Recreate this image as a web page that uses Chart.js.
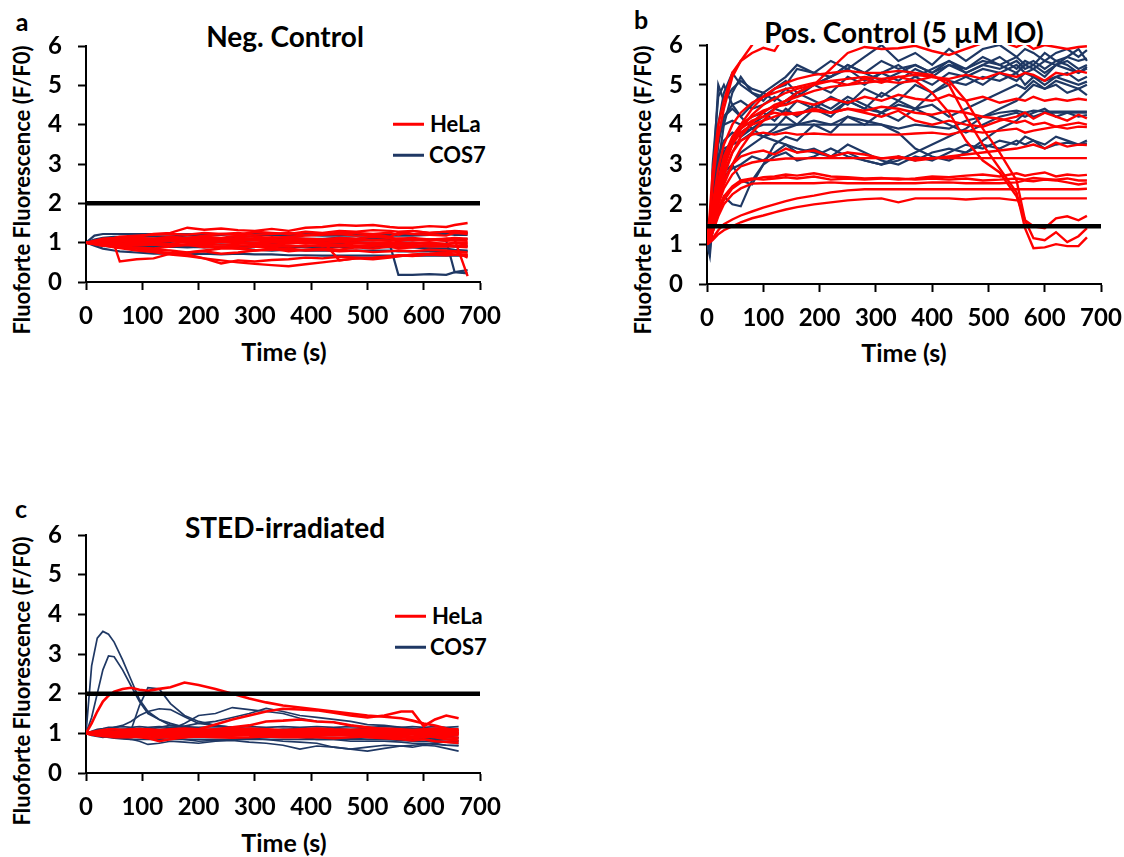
<!DOCTYPE html>
<html>
<head>
<meta charset="utf-8">
<title>Fluoforte traces</title>
<script src="https://cdn.jsdelivr.net/npm/chart.js@4.4.1/dist/chart.umd.min.js"></script>
<style>
  body { margin:0; background:#fff; width:1124px; height:857px; position:relative; overflow:hidden;
         font-family:Lato, "Open Sans", sans-serif; font-weight:bold; color:#000; }
  canvas { position:absolute; }
  .t { position:absolute; white-space:nowrap; line-height:1; transform:translate(-50%,-50%); }
  .yt { position:absolute; white-space:nowrap; line-height:1; font-size:22px; transform:translate(-50%,-50%) rotate(-90deg); }
  .lg { position:absolute; white-space:nowrap; line-height:1; font-size:22px; transform:translateY(-50%); }
  .sw { position:absolute; width:31px; height:2.5px; transform:translateY(-50%); }
</style>
</head>
<body>

<!-- panel letters and titles -->
<div class="t" style="left:22px;top:21px;font-size:25px">a</div>
<div class="t" style="left:641px;top:19px;font-size:25px">b</div>
<div class="t" style="left:21px;top:508px;font-size:25px">c</div>

<div class="t" style="left:285px;top:36px;font-size:28px">Neg. Control</div>
<div class="t" style="left:904px;top:32px;font-size:28px">Pos. Control (5 µM IO)</div>
<div class="t" style="left:285px;top:527px;font-size:28px">STED-irradiated</div>

<div class="yt" style="left:22px;top:190px">Fluoforte Fluorescence (F/F0)</div>
<div class="yt" style="left:643px;top:190px">Fluoforte Fluorescence (F/F0)</div>
<div class="yt" style="left:22px;top:681px">Fluoforte Fluorescence (F/F0)</div>

<div class="t" style="left:284px;top:351px;font-size:25px">Time (s)</div>
<div class="t" style="left:904px;top:352px;font-size:25px">Time (s)</div>
<div class="t" style="left:284px;top:842px;font-size:25px">Time (s)</div>

<!-- legends -->
<div class="sw" style="left:393px;top:124px;background:#ff0000"></div>
<div class="lg" style="left:430px;top:124px">HeLa</div>
<div class="sw" style="left:393px;top:155px;background:#1f3864"></div>
<div class="lg" style="left:429px;top:155px">COS7</div>

<div class="sw" style="left:395px;top:616px;background:#ff0000"></div>
<div class="lg" style="left:432px;top:616px">HeLa</div>
<div class="sw" style="left:395px;top:647px;background:#1f3864"></div>
<div class="lg" style="left:430px;top:647px">COS7</div>

<canvas id="chartA" width="520" height="380" style="left:0px;top:0px"></canvas>
<canvas id="chartB" width="504" height="380" style="left:620px;top:0px"></canvas>
<canvas id="chartC" width="520" height="367" style="left:0px;top:490px"></canvas>

<script>
// ===============================
// DATA
// ===============================
const xTicks = [0, 100, 200, 300, 400, 500, 600, 700];
const yTicks = [0, 1, 2, 3, 4, 5, 6];

// a: negative control
const timeA = [0, 15, 30, 50, 60, 90, 120, 150, 180, 210, 240, 270, 300, 330, 360, 390, 420, 450, 480, 510, 540, 555, 580, 610, 640, 655, 678];
const threshA = 2;
const helaA = [
  [1, 1.02, 1.05, 1.08, 1.1, 1.15, 1.22, 1.25, 1.38, 1.33, 1.36, 1.32, 1.3, 1.35, 1.3, 1.38, 1.4, 1.45, 1.43, 1.45, 1.4, 1.38, 1.38, 1.42, 1.4, 1.45, 1.5],
  [1, 1.0, 0.98, 0.95, 0.52, 0.58, 0.6, 0.72, 0.75, 0.8, 0.85, 0.85, 0.9, 0.88, 0.92, 0.9, 0.95, 0.95, 0.9, 0.92, 0.95, 0.95, 0.95, 0.9, 0.9, 0.92, 0.95],
  [1, 0.97, 0.93, 0.88, 0.86, 0.8, 0.76, 0.7, 0.66, 0.6, 0.55, 0.5, 0.46, 0.43, 0.4, 0.45, 0.5, 0.55, 0.6, 0.62, 0.65, 0.66, 0.68, 0.7, 0.68, 0.7, 0.7],
  [1, 0.98, 0.95, 0.9, 0.88, 0.85, 0.78, 0.74, 0.7, 0.6, 0.47, 0.55, 0.52, 0.56, 0.58, 0.62, 0.6, 0.64, 0.62, 0.6, 0.65, 0.68, 0.66, 0.7, 0.72, 0.7, 0.68],
  [1, 1.02, 1.0, 1.05, 1.03, 1.06, 1.04, 1.1, 1.05, 1.08, 1.1, 1.05, 1.1, 1.08, 1.05, 1.08, 1.05, 0.55, 0.6, 0.58, 0.62, 0.65, 0.7, 0.72, 0.75, 0.78, 0.75],
  [1, 1.0, 1.02, 1.0, 0.98, 1.0, 1.02, 1.05, 1.0, 1.03, 1.05, 1.02, 1.0, 1.04, 1.06, 1.02, 1.05, 1.08, 1.05, 1.07, 1.05, 1.1, 1.08, 1.05, 1.1, 1.08, 0.15],
  [1, 1.05, 1.1, 1.12, 1.15, 1.18, 1.2, 1.22, 1.2, 1.25, 1.22, 1.25, 1.2, 1.22, 1.25, 1.2, 1.22, 1.25, 1.25, 1.22, 1.25, 1.2, 1.3, 1.25, 1.28, 1.27, 1.25],
  [1, 0.98, 0.95, 0.92, 0.9, 0.88, 0.85, 0.9, 0.95, 0.88, 0.9, 0.85, 0.8, 0.82, 0.85, 0.8, 0.82, 0.78, 0.8, 0.76, 0.78, 0.8, 0.78, 0.82, 0.8, 0.78, 0.62],
  [1, 1.02, 1.04, 1.0, 1.02, 1.05, 1.08, 1.12, 1.1, 1.15, 1.12, 1.18, 1.15, 1.12, 1.15, 1.18, 1.2, 1.22, 1.18, 1.2, 1.15, 1.25, 1.22, 1.2, 1.18, 1.25, 1.22],
  [1, 0.99, 0.97, 0.96, 0.95, 0.97, 0.95, 0.93, 0.96, 0.98, 0.95, 0.97, 0.99, 0.95, 0.98, 1.0, 0.97, 0.95, 0.98, 1.0, 0.98, 0.96, 1.0, 0.98, 0.97, 1.0, 0.98],
  [1, 1.01, 1.03, 1.05, 1.06, 1.08, 1.1, 1.08, 1.12, 1.1, 1.08, 1.12, 1.1, 1.14, 1.12, 1.1, 1.08, 1.12, 1.1, 1.15, 1.12, 1.1, 1.12, 1.08, 1.1, 1.12, 1.1],
  [1, 0.97, 0.93, 0.9, 0.88, 0.85, 0.82, 0.8, 0.75, 0.78, 0.72, 0.75, 0.8, 0.85, 0.78, 0.82, 0.85, 0.82, 0.88, 0.85, 0.9, 0.85, 0.88, 0.92, 0.95, 0.92, 0.9],
  [1, 1.03, 1.06, 1.05, 1.1, 1.12, 1.1, 1.15, 1.12, 1.18, 1.22, 1.2, 1.28, 1.25, 1.22, 1.28, 1.25, 1.3, 1.28, 1.32, 1.3, 1.28, 1.3, 1.25, 1.28, 1.3, 1.28],
  [1, 0.96, 0.92, 0.95, 0.93, 0.98, 1.0, 0.97, 1.02, 0.99, 1.03, 1.0, 0.97, 1.0, 1.02, 0.98, 1.0, 1.03, 1.0, 0.97, 1.0, 1.02, 0.98, 1.0, 0.97, 0.99, 1.0],
  [1, 1.02, 1.05, 1.04, 1.06, 1.05, 1.07, 1.05, 1.08, 1.06, 1.05, 1.08, 1.06, 1.05, 1.07, 1.06, 1.08, 1.05, 1.07, 1.06, 1.05, 1.08, 1.06, 1.07, 1.05, 1.06, 1.05],
  [1, 0.98, 0.97, 0.95, 0.96, 0.93, 0.95, 0.92, 0.94, 0.92, 0.9, 0.92, 0.94, 0.92, 0.9, 0.93, 0.92, 0.9, 0.92, 0.94, 0.92, 0.9, 0.92, 0.94, 0.92, 0.9, 0.88]
];
const cos7A = [
  [1, 1.18, 1.22, 1.22, 1.22, 1.22, 1.22, 1.22, 1.22, 1.22, 1.22, 1.22, 1.22, 1.22, 1.22, 1.22, 1.22, 1.22, 1.22, 1.22, 1.22, 1.22, 1.22, 1.22, 1.25, 1.25, 1.25],
  [1, 1.08, 1.12, 1.15, 1.15, 1.15, 1.16, 1.16, 1.18, 1.18, 1.2, 1.22, 1.2, 1.2, 1.18, 1.2, 1.18, 1.18, 1.18, 1.18, 1.18, 1.18, 1.18, 1.2, 1.22, 1.2, 1.2],
  [1, 0.95, 0.92, 0.9, 0.9, 0.88, 0.88, 0.9, 0.88, 0.9, 0.88, 0.9, 0.9, 0.88, 0.9, 0.88, 0.88, 0.9, 0.88, 0.9, 0.88, 0.9, 0.88, 0.85, 0.85, 0.82, 0.8],
  [1, 0.92, 0.85, 0.8, 0.78, 0.75, 0.72, 0.72, 0.7, 0.72, 0.7, 0.72, 0.7, 0.7, 0.68, 0.68, 0.67, 0.67, 0.67, 0.67, 0.67, 0.67, 0.67, 0.67, 0.67, 0.67, 0.67],
  [1, 1.0, 0.98, 0.98, 1.0, 1.02, 1.0, 1.02, 1.05, 1.02, 1.0, 1.02, 1.0, 0.98, 1.0, 1.02, 1.0, 0.98, 1.0, 0.98, 0.95, 0.18, 0.18, 0.2, 0.18, 0.25, 0.3],
  [1, 1.05, 1.08, 1.08, 1.1, 1.1, 1.1, 1.12, 1.1, 1.12, 1.1, 1.12, 1.1, 1.1, 1.12, 1.1, 1.1, 1.12, 1.1, 1.12, 1.1, 1.1, 1.1, 1.08, 1.05, 0.25, 0.22],
  [1, 0.98, 0.96, 0.95, 0.95, 0.93, 0.92, 0.92, 0.94, 0.9, 0.88, 0.86, 0.82, 0.8, 0.82, 0.8, 0.8, 0.8, 0.8, 0.8, 0.8, 0.78, 0.78, 0.78, 0.78, 0.78, 0.78],
  [1, 1.0, 1.02, 1.0, 1.02, 1.05, 1.03, 1.06, 1.05, 1.08, 1.05, 1.06, 1.08, 1.05, 1.06, 1.08, 1.05, 1.04, 1.05, 1.06, 1.08, 1.05, 1.06, 1.08, 1.1, 1.08, 1.1],
  [1, 0.97, 0.95, 0.93, 0.92, 0.9, 0.9, 0.92, 0.9, 0.88, 0.9, 0.92, 0.9, 0.9, 0.92, 0.9, 0.9, 0.92, 0.9, 0.9, 0.92, 0.9, 0.92, 0.9, 0.92, 0.9, 0.92]
];

// b: positive control (ionomycin)
const timeB = [0, 5, 10, 20, 30, 45, 60, 80, 100, 120, 140, 160, 190, 220, 250, 280, 310, 340, 370, 400, 430, 460, 490, 520, 550, 565, 580, 600, 620, 640, 660, 675];
const threshB = 1.45;
const helaB = [
  [1, 1.8, 2.8, 4.0, 4.6, 5.3, 5.6, 6.0, 6.4],
  [1, 1.6, 2.5, 3.7, 4.4, 5.2, 5.6, 5.8, 5.93, 5.85, 6.3],
  [1, 1.2, 1.5, 2.0, 2.5, 3.0, 3.4, 3.8, 4.1, 4.4, 4.6, 4.8, 5.0, 5.4, 5.8, 5.95, 5.9, 5.92, 5.98, 5.85, 5.75, 5.9, 6.05, 6.1, 5.95, 6.05, 5.9, 6.0, 5.95, 5.9, 5.95, 5.97],
  [1, 1.3, 1.7, 2.4, 3.0, 3.6, 4.0, 4.4, 4.7, 4.9, 5.05, 5.15, 5.25, 5.3, 5.35, 5.3, 5.3, 5.35, 5.3, 5.25, 5.0, 4.2, 3.5, 2.9, 2.3, 1.4, 0.9, 0.92, 1.0, 0.95, 0.95, 1.17],
  [1, 1.2, 1.6, 2.3, 2.9, 3.5, 3.9, 4.25, 4.5, 4.65, 4.8, 4.9, 5.0, 5.1, 5.15, 5.2, 5.15, 5.2, 5.25, 5.2, 5.1, 4.6, 3.9, 3.3, 2.6, 1.6, 1.15, 1.1, 1.3, 1.05, 1.2, 1.4],
  [1, 1.15, 1.45, 2.1, 2.7, 3.3, 3.7, 4.05, 4.3, 4.5, 4.6, 4.7, 4.85, 4.95, 5.0, 5.05, 5.1, 5.05, 5.1, 4.8, 4.3, 3.6, 3.1, 2.8, 2.2, 1.6, 1.45, 1.4, 1.65, 1.7, 1.6, 1.71],
  [1, 1.4, 2.0, 2.9, 3.5, 4.0, 4.3, 4.55, 4.7, 4.8, 4.9, 4.95, 5.05, 5.1, 5.0, 5.15, 5.05, 5.2, 5.1, 5.2, 5.15, 5.25, 5.15, 5.3, 5.2, 5.3, 5.25, 5.1, 5.3, 5.25, 5.35, 5.3],
  [1, 1.3, 1.8, 2.6, 3.2, 3.7, 4.0, 4.2, 4.35, 4.45, 4.5, 4.6, 4.5, 4.65, 4.55, 4.7, 4.6, 4.75, 4.65, 4.6, 4.75, 4.6, 4.7, 4.55, 4.65, 4.6, 4.7, 4.6, 4.65, 4.6, 4.65, 4.62],
  [1, 1.2, 1.6, 2.4, 3.0, 3.5, 3.8, 4.0, 4.1, 4.2, 4.3, 4.25, 4.4, 4.3, 4.4, 4.3, 4.2, 4.35, 4.1, 4.0, 4.1, 4.0, 3.95, 4.1, 4.2, 4.3, 4.15, 4.3, 4.2, 4.1, 4.25, 4.16],
  [1, 1.25, 1.7, 2.5, 3.1, 3.6, 3.9, 4.1, 4.2, 4.3, 4.25, 4.3, 4.35, 4.3, 4.4, 4.35, 4.45, 4.4, 4.3, 4.25, 4.35, 4.3, 4.2, 4.15, 4.05, 4.1, 4.0, 4.05, 3.95, 4.0, 4.05, 4.0],
  [1, 1.2, 1.5, 2.2, 2.8, 3.3, 3.6, 3.75, 3.8, 3.75, 3.8, 3.75, 3.78, 3.75, 3.75, 3.75, 3.75, 3.75, 3.78, 3.8, 3.75, 3.85, 3.8, 3.85, 3.9, 3.8, 3.85, 3.9, 3.95, 3.9, 3.95, 3.94],
  [1, 1.2, 1.5, 2.1, 2.6, 3.0, 3.2, 3.3, 3.35, 3.25, 3.4, 3.3, 3.35, 3.2, 3.3, 3.25, 3.15, 3.2, 3.1, 3.15, 3.2, 3.25, 3.3, 3.35, 3.4, 3.45, 3.5, 3.4, 3.55, 3.45, 3.5, 3.49],
  [1, 1.15, 1.4, 2.0, 2.4, 2.75, 2.95, 3.05, 3.1, 3.12, 3.15, 3.15, 3.16, 3.16, 3.16, 3.16, 3.16, 3.16, 3.16, 3.16, 3.16, 3.16, 3.16, 3.16, 3.16, 3.16, 3.16, 3.16, 3.16, 3.16, 3.16, 3.16],
  [1, 1.1, 1.3, 1.8, 2.1, 2.4, 2.55, 2.62, 2.68, 2.7, 2.75, 2.72, 2.78, 2.7, 2.68, 2.65, 2.66, 2.62, 2.65, 2.7, 2.68, 2.72, 2.75, 2.7, 2.78, 2.72, 2.76, 2.8, 2.7, 2.75, 2.72, 2.74],
  [1, 1.1, 1.4, 1.9, 2.2, 2.45, 2.6, 2.65, 2.62, 2.65, 2.68, 2.65, 2.7, 2.62, 2.65, 2.62, 2.65, 2.65, 2.62, 2.65, 2.62, 2.65, 2.6, 2.62, 2.65, 2.62, 2.66, 2.64, 2.62, 2.65, 2.6, 2.6],
  [1, 1.1, 1.3, 1.7, 2.0, 2.25, 2.4, 2.52, 2.53, 2.53, 2.53, 2.53, 2.53, 2.55, 2.53, 2.53, 2.53, 2.53, 2.53, 2.55, 2.55, 2.53, 2.53, 2.53, 2.55, 2.6, 2.58, 2.62, 2.6, 2.55, 2.5, 2.53],
  [1, 1.05, 1.15, 1.35, 1.5, 1.62, 1.72, 1.82, 1.92, 2.0, 2.08, 2.15, 2.22, 2.3, 2.35, 2.38, 2.38, 2.38, 2.38, 2.38, 2.38, 2.38, 2.38, 2.38, 2.38, 2.38, 2.38, 2.38, 2.38, 2.38, 2.38, 2.39],
  [1, 1.05, 1.1, 1.25, 1.35, 1.45, 1.55, 1.65, 1.72, 1.8, 1.87, 1.93, 2.0, 2.05, 2.1, 2.13, 2.15, 2.05, 2.15, 2.15, 2.15, 2.12, 2.15, 2.15, 2.1, 2.15, 2.15, 2.15, 2.15, 2.15, 2.15, 2.15]
];
const cos7B = [
  [1, 0.8, 2.5, 5.0, 4.6, 4.9, 5.1, 4.9, 4.8, 5.0, 5.2, 5.5, 5.3, 5.6, 5.4, 5.7, 6.0, 5.6, 5.8, 5.5, 5.9, 5.6, 5.9, 6.0, 5.7, 5.9, 5.8, 5.6, 5.8, 5.9, 5.7, 5.87],
  [1, 0.7, 1.5, 3.0, 4.0, 4.8, 5.2, 4.8, 4.7, 4.9, 5.0, 5.4, 5.3, 5.2, 5.5, 5.3, 5.6, 5.4, 5.5, 5.3, 5.5, 5.4, 5.6, 5.5, 5.7, 5.5, 5.4, 5.6, 5.5, 5.7, 5.6, 5.66],
  [1, 1.2, 2.0, 3.5, 4.2, 4.4, 4.2, 4.5, 4.8, 4.6, 4.9, 4.7, 5.0, 4.8, 5.2, 5.0, 5.3, 5.1, 5.4, 5.2, 5.5, 5.3, 5.5, 5.4, 5.6, 5.4, 5.5, 5.3, 5.5, 5.6, 5.4, 5.5],
  [1, 1.0, 1.5, 2.5, 3.2, 3.6, 3.8, 3.9, 4.1, 4.4, 4.3, 4.6, 4.4, 4.7, 4.5, 4.9, 4.7, 5.0, 5.2, 5.0, 5.3, 5.2, 5.4, 5.3, 5.5, 5.3, 5.4, 5.2, 5.5, 5.4, 5.3, 5.41],
  [1, 1.1, 1.8, 3.0, 3.4, 3.5, 3.6, 3.8, 3.7, 3.9, 4.2, 4.0, 4.4, 4.2, 4.6, 4.4, 4.8, 4.6, 5.0, 4.8, 5.1, 5.0, 5.2, 5.1, 5.3, 5.0, 5.2, 5.1, 5.2, 5.3, 5.1, 5.2],
  [1, 1.1, 1.6, 2.5, 2.8, 3.0, 2.6, 2.5, 3.0, 3.5, 3.7, 3.6, 4.0, 3.8, 4.2, 4.0, 4.3, 4.5, 4.4, 4.8, 5.0, 5.2, 5.0, 5.3, 5.1, 5.3, 5.2, 5.0, 5.2, 5.1, 5.0, 5.08],
  [1, 1.2, 2.2, 3.6, 4.2, 4.5, 4.6, 4.4, 4.5, 4.7, 4.5, 4.8, 4.6, 4.4, 4.7, 4.5, 4.3, 4.6, 4.4, 4.5, 4.2, 4.4, 4.6, 4.8, 5.0, 4.9, 5.1, 4.9, 5.0, 4.8, 4.9, 4.74],
  [1, 1.0, 1.4, 2.2, 2.6, 3.0, 3.3, 3.5, 3.7, 3.8, 3.9, 4.0, 4.1, 4.0, 4.2, 4.1, 4.0, 3.9, 4.0, 3.95, 3.9, 4.1, 4.2, 4.3, 4.35, 4.3, 4.35, 4.33, 4.33, 4.33, 4.33, 4.33],
  [1, 1.3, 2.5, 3.8, 4.0, 4.1, 4.0, 4.2, 4.3, 4.1, 4.4, 4.2, 4.5, 4.3, 4.6, 4.4, 4.3, 4.1, 4.4, 4.2, 4.0, 3.8, 4.0, 4.2, 4.3, 4.2, 4.3, 4.4, 4.2, 4.3, 4.2, 4.24],
  [1, 1.0, 1.6, 2.4, 2.7, 2.9, 3.0, 3.2, 3.1, 3.3, 3.5, 3.3, 3.4, 3.2, 3.5, 3.3, 3.1, 3.0, 3.2, 3.1, 3.3, 3.5, 3.4, 3.6, 3.5, 3.7, 3.6, 3.5, 3.7, 3.6, 3.5, 3.6],
  [1, 1.0, 1.3, 1.8, 2.2, 2.0, 1.95, 2.6, 3.0, 3.2, 3.3, 3.1, 3.2, 3.4, 3.2, 3.1, 3.0, 3.2, 3.1, 3.3, 3.4, 3.3, 3.5, 3.4, 3.6, 3.5, 3.6, 3.4, 3.5, 3.55, 3.5, 3.53],
  [1, 1.2, 2.0, 3.2, 3.6, 3.8, 3.7, 3.9, 4.0, 4.0, 4.0, 4.0, 4.0, 4.0, 4.0, 4.0, 4.0, 3.8, 3.4, 3.2, 3.1, 3.3, 3.6, 3.9, 4.1, 4.3, 4.2, 4.3, 4.3, 4.3, 4.3, 4.3],
  [1, 1.0, 2.0, 4.0, 4.8, 5.3, 5.0, 4.8, 4.6, 4.9, 5.1, 4.8, 5.0, 5.2, 5.4, 5.1, 5.3, 5.5, 5.2, 5.4, 5.6, 5.3, 5.5, 5.7, 5.4, 5.6, 5.5, 5.8, 5.6, 5.7, 5.9, 5.6],
  [1, 1.1, 1.8, 2.8, 3.3, 3.6, 3.8, 4.0, 4.2, 4.4, 4.6, 4.8, 5.0, 5.2, 5.5, 5.3, 5.1, 5.3, 5.5, 5.3, 5.6, 5.4, 5.7, 5.5, 5.3, 5.5, 5.6, 5.4, 5.6, 5.5, 5.3, 5.45],
  [1, 0.9, 3.0, 4.7, 5.0, 4.5, 4.2, 3.9, 3.7, 3.6, 3.5, 3.4, 3.3, 3.2, 3.3, 3.1, 3.0, 3.1, 3.3, 3.5, 3.7, 3.9, 4.2, 4.4, 4.6, 4.8, 5.0, 4.9, 5.1, 5.0, 4.9, 5.0]
];

// c: STED-irradiated
const timeC = [0, 10, 20, 30, 40, 50, 65, 80, 95, 110, 130, 150, 175, 200, 230, 260, 290, 320, 350, 380, 410, 440, 470, 500, 530, 560, 580, 600, 620, 640, 662];
const threshC = 2;
const helaC = [
  [1, 1.25, 1.55, 1.8, 1.95, 2.05, 2.12, 2.15, 2.1, 2.07, 2.12, 2.16, 2.28, 2.22, 2.12, 2.0, 1.88, 1.78, 1.7, 1.65, 1.6, 1.55, 1.5, 1.45, 1.42, 1.38, 1.32, 1.25, 1.2, 1.12, 1.05],
  [1, 1.0, 0.98, 1.0, 1.02, 1.0, 0.98, 1.0, 1.02, 1.0, 0.98, 1.0, 1.05, 1.1, 1.22, 1.35, 1.45, 1.55, 1.62, 1.6, 1.58, 1.52, 1.45, 1.4, 1.45, 1.55, 1.55, 1.18, 1.35, 1.45, 1.38],
  [1, 1.02, 1.0, 0.98, 1.0, 1.02, 1.0, 0.98, 1.0, 0.95, 0.92, 0.95, 1.0, 1.05, 1.1, 1.15, 1.2, 1.3, 1.32, 1.35, 1.3, 1.28, 1.2, 1.15, 1.1, 1.05, 1.0, 0.95, 0.9, 0.85, 0.82],
  [1, 0.98, 0.95, 0.97, 1.0, 0.98, 0.95, 0.93, 0.9, 0.88, 0.8, 0.85, 0.9, 0.95, 0.92, 0.95, 0.98, 1.0, 0.98, 1.02, 1.0, 0.98, 1.0, 1.02, 1.0, 0.98, 1.0, 0.98, 1.0, 1.02, 1.0],
  [1, 1.02, 1.04, 1.03, 1.05, 1.04, 1.06, 1.05, 1.07, 1.05, 1.06, 1.08, 1.06, 1.05, 1.07, 1.08, 1.06, 1.05, 1.07, 1.06, 1.08, 1.05, 1.07, 1.06, 1.08, 1.06, 1.05, 1.07, 1.06, 1.08, 1.06],
  [1, 0.98, 0.97, 0.96, 0.95, 0.96, 0.94, 0.95, 0.93, 0.95, 0.94, 0.96, 0.95, 0.93, 0.95, 0.94, 0.96, 0.95, 0.93, 0.95, 0.94, 0.96, 0.95, 0.93, 0.95, 0.94, 0.92, 0.95, 0.93, 0.94, 0.95],
  [1, 1.0, 1.01, 1.0, 0.99, 1.0, 1.01, 0.99, 1.0, 1.02, 1.0, 0.99, 1.01, 1.0, 1.02, 0.99, 1.0, 1.01, 1.0, 0.98, 1.0, 1.01, 1.0, 0.99, 1.01, 1.0, 1.02, 0.99, 1.0, 1.01, 1.0],
  [1, 1.03, 1.06, 1.08, 1.1, 1.1, 1.09, 1.1, 1.11, 1.1, 1.08, 1.1, 1.12, 1.1, 1.09, 1.1, 1.12, 1.1, 1.08, 1.1, 1.12, 1.1, 1.09, 1.1, 1.12, 1.1, 1.08, 1.1, 1.12, 1.1, 1.1],
  [1, 0.97, 0.95, 0.93, 0.92, 0.9, 0.91, 0.9, 0.92, 0.9, 0.89, 0.91, 0.9, 0.92, 0.9, 0.89, 0.9, 0.92, 0.9, 0.91, 0.9, 0.88, 0.9, 0.92, 0.9, 0.9, 0.88, 0.9, 0.92, 0.9, 0.88],
  [1, 0.99, 0.98, 1.0, 1.02, 1.0, 1.03, 1.05, 1.02, 1.0, 1.03, 1.05, 1.02, 1.0, 1.02, 1.05, 1.08, 1.1, 1.05, 1.0, 1.02, 0.98, 0.95, 0.9, 0.88, 0.85, 0.82, 0.85, 0.8, 0.78, 0.76],
  [1, 1.01, 1.03, 1.02, 1.04, 1.03, 1.02, 1.04, 1.03, 1.05, 1.03, 1.04, 1.02, 1.04, 1.03, 1.05, 1.03, 1.02, 1.04, 1.03, 1.05, 1.03, 1.04, 1.02, 1.04, 1.03, 1.05, 1.03, 1.04, 1.03, 1.04],
  [1, 0.99, 0.98, 0.97, 0.98, 0.97, 0.96, 0.98, 0.97, 0.96, 0.98, 0.97, 0.96, 0.98, 0.97, 0.96, 0.98, 0.97, 0.96, 0.97, 0.98, 0.96, 0.97, 0.98, 0.96, 0.97, 0.98, 0.96, 0.97, 0.98, 0.97]
];
const cos7C = [
  [1, 2.7, 3.4, 3.57, 3.5, 3.3, 2.85, 2.35, 1.85, 1.55, 1.35, 1.2, 1.15, 1.1, 1.1, 1.05, 1.0, 1.0, 0.95, 0.9, 0.85, 0.85, 0.8, 0.8, 0.8, 0.78, 0.75, 0.75, 0.72, 0.7, 0.7],
  [1, 1.4, 2.0, 2.6, 2.95, 2.93, 2.6, 2.2, 1.8, 1.5, 1.35, 1.25, 1.15, 1.1, 1.05, 1.05, 1.0, 0.98, 0.95, 0.95, 0.9, 0.9, 0.88, 0.85, 0.85, 0.82, 0.8, 0.8, 0.78, 0.78, 0.75],
  [1, 1.02, 1.05, 1.05, 1.08, 1.1, 1.1, 1.08, 1.7, 2.15, 2.12, 1.75, 1.45, 1.3, 1.2, 1.15, 1.1, 1.05, 1.1, 1.05, 1.0, 1.0, 0.95, 0.95, 0.92, 0.9, 0.92, 0.9, 0.88, 0.9, 0.88],
  [1, 1.0, 1.02, 1.05, 1.1, 1.15, 1.2, 1.3, 1.45, 1.55, 1.62, 1.6, 1.42, 1.25, 1.2, 1.15, 1.1, 1.1, 1.05, 1.05, 1.0, 1.0, 1.0, 0.95, 0.95, 0.9, 0.9, 0.88, 0.85, 0.85, 0.82],
  [1, 0.98, 0.95, 0.95, 0.97, 1.0, 1.02, 1.0, 0.98, 1.0, 1.05, 1.1, 1.25, 1.45, 1.5, 1.65, 1.6, 1.55, 1.5, 1.38, 1.3, 1.28, 1.2, 1.15, 1.1, 1.05, 1.0, 1.0, 0.95, 0.92, 0.9],
  [1, 1.0, 1.0, 0.98, 1.0, 1.02, 1.05, 1.1, 1.12, 1.1, 1.15, 1.2, 1.18, 1.25, 1.3, 1.4, 1.5, 1.63, 1.55, 1.45, 1.4, 1.35, 1.3, 1.22, 1.2, 1.15, 1.12, 1.1, 1.08, 1.05, 1.0],
  [1, 0.95, 0.92, 0.9, 0.92, 0.9, 0.88, 0.85, 0.8, 0.72, 0.75, 0.8, 0.78, 0.75, 0.8, 0.82, 0.78, 0.75, 0.7, 0.6, 0.68, 0.65, 0.6, 0.65, 0.7, 0.68, 0.65, 0.7, 0.68, 0.62, 0.55],
  [1, 1.0, 0.98, 0.96, 0.95, 0.95, 0.93, 0.9, 0.92, 0.9, 0.88, 0.9, 0.85, 0.8, 0.82, 0.85, 0.88, 0.85, 0.8, 0.78, 0.75, 0.65, 0.6, 0.55, 0.62, 0.68, 0.7, 0.72, 0.75, 0.7, 0.68],
  [1, 1.05, 1.1, 1.12, 1.15, 1.15, 1.17, 1.15, 1.17, 1.15, 1.17, 1.15, 1.17, 1.15, 1.17, 1.15, 1.17, 1.15, 1.17, 1.15, 1.17, 1.15, 1.17, 1.15, 1.17, 1.15, 1.17, 1.15, 1.17, 1.15, 1.17],
  [1, 0.98, 0.95, 0.92, 0.9, 0.88, 0.86, 0.85, 0.85, 0.85, 0.85, 0.85, 0.85, 0.85, 0.85, 0.85, 0.85, 0.85, 0.85, 0.85, 0.85, 0.85, 0.85, 0.85, 0.85, 0.85, 0.85, 0.85, 0.82, 0.8, 0.8],
  [1, 1.02, 1.05, 1.05, 1.06, 1.08, 1.1, 1.12, 1.1, 1.08, 1.1, 1.12, 1.1, 1.08, 1.1, 1.12, 1.1, 1.08, 1.1, 1.12, 1.1, 1.12, 1.1, 1.12, 1.1, 1.12, 1.1, 1.12, 1.1, 1.08, 1.1]
];

// ===============================
// STYLE
// ===============================
const RED = "#ff0000";
const NAVY = "#1f3864";
const tickFont = { family: "Lato", size: 24, weight: "bold" };


// ===============================
// CHART BUILDER
// ===============================
function toPoints(times, vals){
  return vals.map((v, i) => ({ x: times[i], y: v }));
}

function makePanel(id, times, hela, cos7, thresh, box){
  let datasets = [];

  // threshold line first so it sits on top
  datasets.push({
    data: [{ x: xTicks[0], y: thresh }, { x: xTicks[xTicks.length - 1], y: thresh }],
    borderColor: "#000", borderWidth: 4.5
  });
  hela.forEach(v => datasets.push({ data: toPoints(times, v), borderColor: RED, borderWidth: box.redW }));
  cos7.forEach(v => datasets.push({ data: toPoints(times, v), borderColor: NAVY, borderWidth: box.blueW }));

  let ctx = document.getElementById(id).getContext("2d");

  return new Chart(ctx, {
    type: "line",
    data: { datasets: datasets },
    options: {
      responsive: false,
      animation: false,
      events: [],
      layout: { padding: { left: 0, top: box.top, right: box.right, bottom: 0 } },
      elements: { point: { radius: 0 }, line: { tension: 0, fill: false } },
      plugins: { legend: { display: false }, tooltip: { enabled: false } },
      scales: {
        x: {
          type: "linear", min: xTicks[0], max: xTicks[xTicks.length - 1],
          afterBuildTicks: s => { s.ticks = xTicks.map(v => ({ value: v })); },
          ticks: { color: "#000", font: tickFont, padding: 12, maxRotation: 0 },
          grid: { drawOnChartArea: false, tickLength: 8, tickWidth: 2, tickColor: "#000" },
          border: { color: "#000", width: 2 },
          afterFit: s => { s.height = box.xh; s.paddingLeft = 0; s.paddingRight = 0; }
        },
        y: {
          min: yTicks[0], max: yTicks[yTicks.length - 1],
          afterBuildTicks: s => { s.ticks = yTicks.map(v => ({ value: v })); },
          ticks: { color: "#000", font: tickFont, padding: 16 },
          grid: { drawOnChartArea: false, tickLength: 8, tickWidth: 2, tickColor: "#000" },
          border: { color: "#000", width: 2 },
          afterFit: s => { s.width = box.yw; s.paddingTop = 0; s.paddingBottom = 0; }
        }
      }
    }
  });
}

function drawAll(){
  makePanel("chartA", timeA, helaA, cos7A, threshA, { top: 46, right: 40, yw: 86, xh: 98, redW: 2.4, blueW: 2.2 });
  makePanel("chartB", timeB, helaB, cos7B, threshB, { top: 45, right: 23, yw: 87, xh: 96, redW: 2.4, blueW: 2.2 });
  makePanel("chartC", timeC, helaC, cos7C, threshC, { top: 45, right: 40, yw: 86, xh: 84, redW: 2.6, blueW: 1.7 });
}

if (document.fonts && document.fonts.load){
  document.fonts.load("bold 24px Lato").then(drawAll, drawAll);
} else {
  drawAll();
}
</script>
</body>
</html>
